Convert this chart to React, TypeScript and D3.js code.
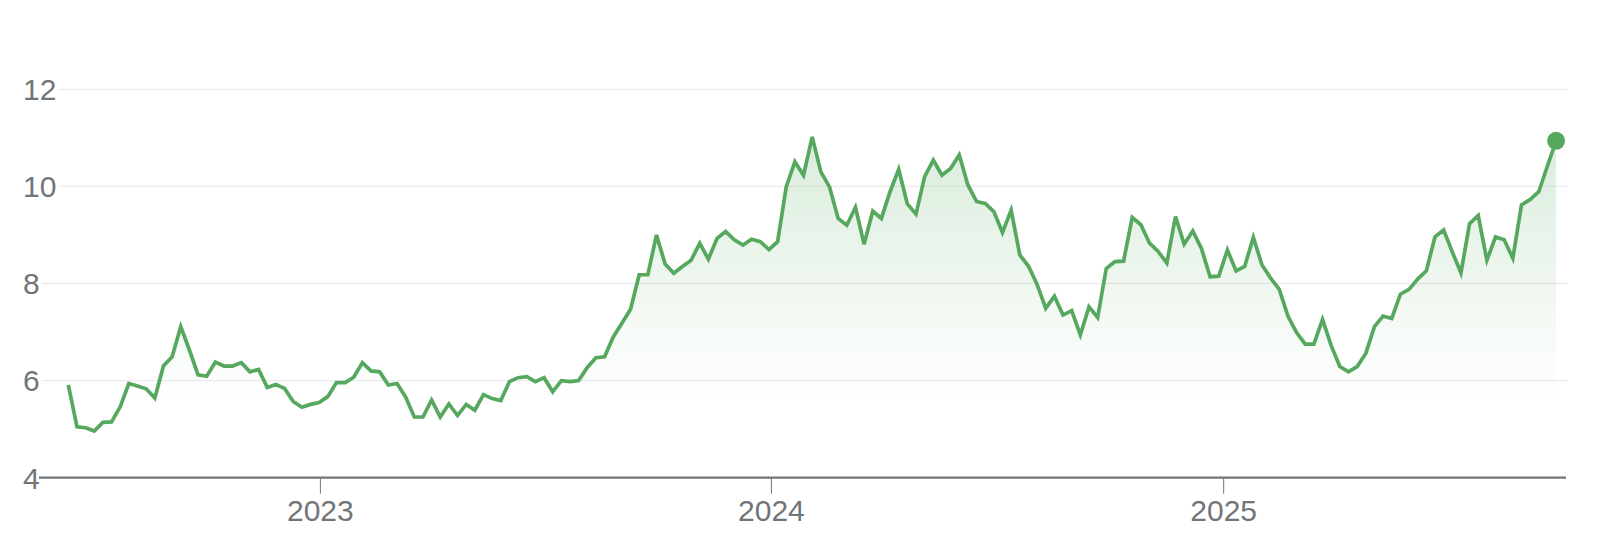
import React from "react";
import * as d3 from "d3";

// Weekly closing values (first week starts 2022-06-11)
const startDate = "2022-06-11";
const prices: number[] = [
  5.91, 5.05, 5.03, 4.96, 5.14, 5.15, 5.46, 5.94, 5.89, 5.83,
  5.64, 6.30, 6.49, 7.11, 6.63, 6.12, 6.09, 6.38, 6.30, 6.30,
  6.37, 6.18, 6.23, 5.86, 5.92, 5.84, 5.57, 5.45, 5.51, 5.55,
  5.67, 5.96, 5.96, 6.07, 6.37, 6.20, 6.18, 5.91, 5.94, 5.66,
  5.25, 5.25, 5.60, 5.25, 5.52, 5.28, 5.51, 5.39, 5.71, 5.63,
  5.59, 5.98, 6.06, 6.08, 5.98, 6.06, 5.77, 6.00, 5.98, 6.00,
  6.27, 6.47, 6.49, 6.90, 7.18, 7.47, 8.18, 8.18, 9.00, 8.40,
  8.21, 8.35, 8.48, 8.83, 8.50, 8.93, 9.07, 8.90, 8.79, 8.91,
  8.86, 8.70, 8.86, 9.99, 10.51, 10.23, 11.02, 10.30, 9.99, 9.34,
  9.20, 9.57, 8.81, 9.49, 9.34, 9.89, 10.35, 9.64, 9.43, 10.20,
  10.54, 10.23, 10.37, 10.65, 10.03, 9.69, 9.65, 9.48, 9.05, 9.51,
  8.59, 8.36, 7.98, 7.49, 7.74, 7.35, 7.44, 6.94, 7.52, 7.30,
  8.31, 8.45, 8.46, 9.36, 9.21, 8.83, 8.66, 8.42, 9.38, 8.81,
  9.08, 8.72, 8.14, 8.15, 8.69, 8.26, 8.35, 8.95, 8.38, 8.11,
  7.88, 7.33, 6.99, 6.75, 6.75, 7.26, 6.72, 6.29, 6.18, 6.29,
  6.56, 7.11, 7.33, 7.28, 7.78, 7.88, 8.09, 8.26, 8.96, 9.10,
  8.65, 8.22, 9.23, 9.40, 8.48, 8.96, 8.90, 8.52, 9.62, 9.73,
  9.89, 10.42, 10.94,
];
const yTicks: number[] = [4, 6, 8, 10, 12];
const xTickYears: string[] = ["2023-01-01", "2024-01-01", "2025-01-01"];

const W = 1600;
const H = 552;
const GREEN = "#55a85e";
const GRAY = "#70757a";
const FONT = "'Liberation Sans', Arial, Helvetica, sans-serif";

export default function App() {
  const start = new Date(startDate + "T00:00:00Z");
  const data = prices.map((v, i) => ({ date: d3.utcDay.offset(start, 7 * i), value: v }));
  const last = data[data.length - 1];

  const x = d3
    .scaleUtc()
    .domain([start, last.date])
    .range([68.3, 68.3 + 1.2357 * d3.utcDay.count(start, last.date)]);
  const y = d3.scaleLinear().domain([4, 12]).range([477.7, 89.3]);

  const line = d3
    .line<{ date: Date; value: number }>()
    .x((d) => x(d.date))
    .y((d) => y(d.value))
    .curve(d3.curveLinear);
  const area = d3
    .area<{ date: Date; value: number }>()
    .x((d) => x(d.date))
    .y0(y(4))
    .y1((d) => y(d.value));

  const axisLeft = 39;
  const axisRight = 1566;

  return (
    <svg
      width={W}
      height={H}
      style={{ position: "absolute", left: 0, top: 0, background: "#fff" }}
      fontFamily={FONT}
    >
      <defs>
        <linearGradient id="fillGrad" gradientUnits="userSpaceOnUse" x1="0" y1={y(11.2)} x2="0" y2={y(5.6)}>
          <stop offset="0%" stopColor={GREEN} stopOpacity={0.22} />
          <stop offset="100%" stopColor={GREEN} stopOpacity={0} />
        </linearGradient>
      </defs>

      {/* gridlines + y labels */}
      {yTicks.map((t) => {
        const label = String(t);
        const x1 = 23 + label.length * 16.6 + 2;
        return (
          <g key={t}>
            {t !== 4 && (
              <line x1={x1} x2={1567} y1={y(t)} y2={y(t)} stroke="#ececec" strokeWidth={1.3} />
            )}
            <text x={23} y={y(t) + 10.8} fontSize={30} fill={GRAY}>
              {label}
            </text>
          </g>
        );
      })}

      {/* area and line */}
      <path d={area(data) ?? ""} fill="url(#fillGrad)" />
      <path d={line(data) ?? ""} fill="none" stroke={GREEN} strokeWidth={3.7} strokeLinejoin="miter" strokeMiterlimit={4} />
      <circle cx={x(last.date)} cy={y(last.value)} r={9} fill={GREEN} />

      {/* x axis */}
      <line x1={axisLeft} x2={axisRight} y1={y(4)} y2={y(4)} stroke={GRAY} strokeWidth={2.2} />
      {xTickYears.map((s) => {
        const d = new Date(s + "T00:00:00Z");
        const px = x(d);
        return (
          <g key={s}>
            <line x1={px} x2={px} y1={y(4)} y2={y(4) + 16} stroke={GRAY} strokeWidth={1} />
            <text x={px} y={521} fontSize={30} fill={GRAY} textAnchor="middle">
              {d3.utcFormat("%Y")(d)}
            </text>
          </g>
        );
      })}
    </svg>
  );
}
